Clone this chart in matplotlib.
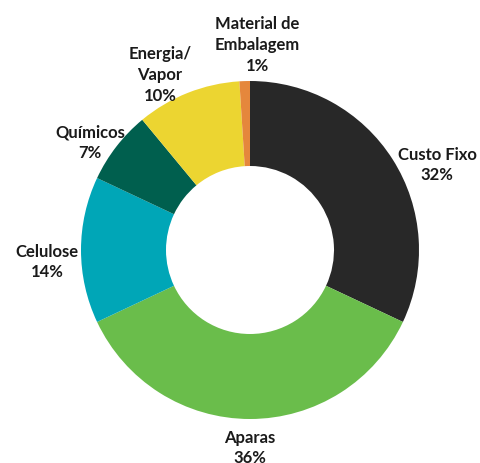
import matplotlib
matplotlib.use("Agg")
import matplotlib.pyplot as plt

categories = ["Custo Fixo", "Aparas", "Celulose", "Químicos", "Energia/\nVapor", "Material de\nEmbalagem"]
values = [32, 36, 14, 7, 10, 1]
colors = ["#282828", "#6abd4b", "#00a6b7", "#005f4e", "#ecd531", "#e5873c"]

# label block centres in pixel coordinates (x, y from top)
label_pos = [(437, 165), (250, 448), (47, 262), (90, 143), (160, 75), (257, 45)]

W, H = 480, 464
fig = plt.figure(figsize=(W / 100, H / 100), dpi=100)
ax = fig.add_axes([0, 0, 1, 1])
ax.pie(values, startangle=90, counterclock=False, radius=169, center=(250, H - 251),
       colors=colors, wedgeprops=dict(width=85, edgecolor="none"))
ax.set_xlim(0, W)
ax.set_ylim(0, H)
ax.set_aspect("equal")
ax.axis("off")

for cat, v, (x, y) in zip(categories, values, label_pos):
    ax.text(x, H - y, f"{cat}\n{v}%", ha="center", va="center", fontsize=12,
            fontweight="bold", family="Lato", linespacing=1.35, color="#1a1a1a")

fig.savefig("out.png", dpi=100)
